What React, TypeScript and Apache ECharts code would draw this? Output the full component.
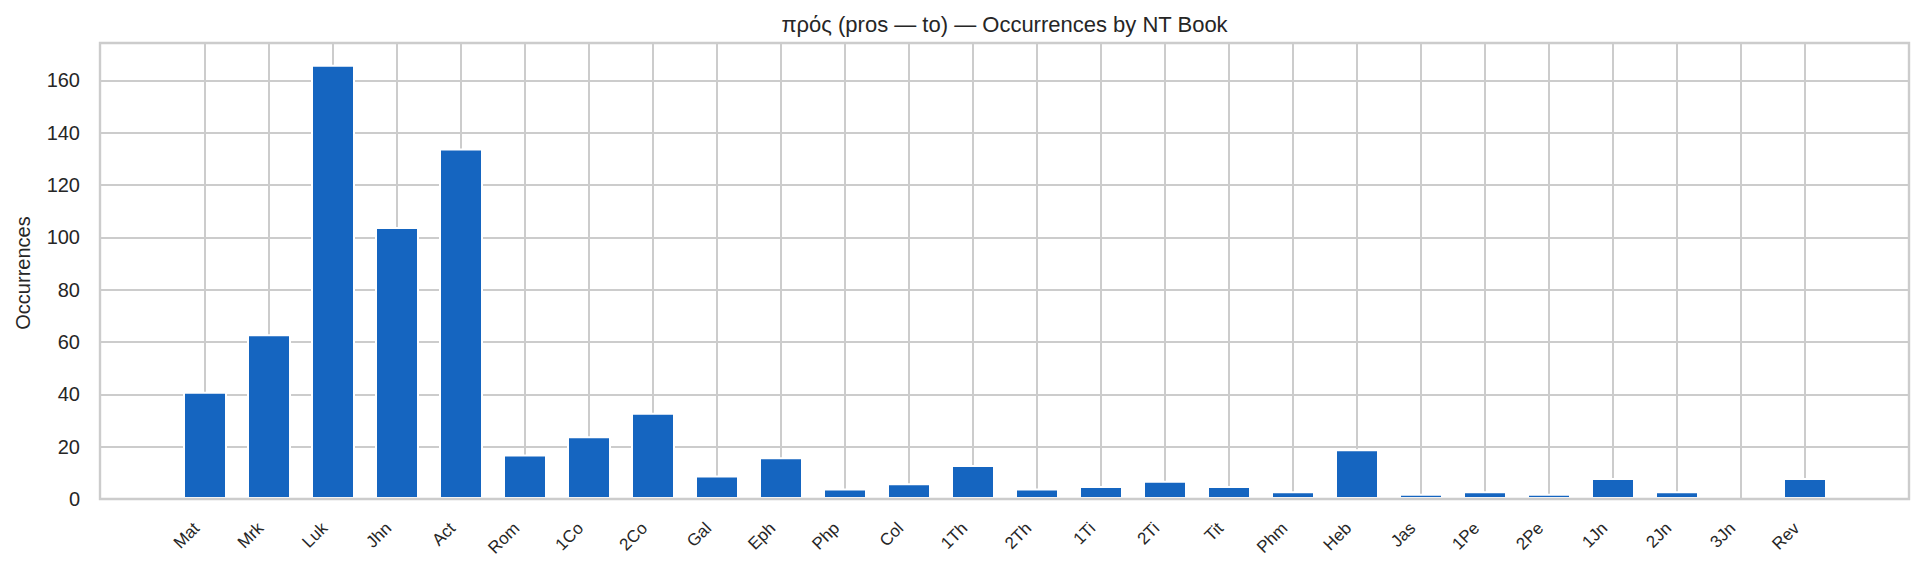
import React, { useEffect, useRef } from 'react';
import * as echarts from 'echarts';

const books = [
  'Mat', 'Mrk', 'Luk', 'Jhn', 'Act', 'Rom', '1Co', '2Co', 'Gal', 'Eph', 'Php', 'Col', '1Th',
  '2Th', '1Ti', '2Ti', 'Tit', 'Phm', 'Heb', 'Jas', '1Pe', '2Pe', '1Jn', '2Jn', '3Jn', 'Rev',
];
const occurrences = [
  41, 63, 166, 104, 134, 17, 24, 33, 9, 16, 4, 6, 13,
  4, 5, 7, 5, 3, 19, 2, 3, 2, 8, 3, 0, 8,
];
const yTicks = [0, 20, 40, 60, 80, 100, 120, 140, 160];
const yMax = 174.3;

const titleText = 'πρός (pros — to) — Occurrences by NT Book';
const yLabel = 'Occurrences';

const FONT = '"Liberation Sans", Arial, sans-serif';
const TEXT = '#262626';
const GRID = '#cccccc';
const BAR = '#1565C0';

export default function App() {
  const chartRef = useRef<HTMLDivElement>(null);

  useEffect(() => {
    document.body.style.margin = '0';
    if (!chartRef.current) return;
    const chart = echarts.init(chartRef.current, null, { renderer: 'svg' });

    const option: echarts.EChartsOption = {
      animation: false,
      backgroundColor: '#ffffff',
      textStyle: { fontFamily: FONT, color: TEXT },
      grid: [
        // frame + horizontal grid
        { left: 100, right: 14, top: 43, bottom: 76, containLabel: false },
        // bars + vertical grid
        { left: 205, right: 118, top: 43, bottom: 76, containLabel: false },
      ],
      xAxis: [
        { type: 'value', gridIndex: 0, min: 0, max: 1, show: false },
        {
          type: 'category',
          gridIndex: 1,
          data: books,
          boundaryGap: false,
          axisLine: { show: false },
          axisTick: { show: false },
          splitLine: { show: true, lineStyle: { color: GRID, width: 2 } },
          axisLabel: {
            rotate: 45,
            interval: 0,
            margin: 18,
            padding: [0, 12, 0, 0],
            fontSize: 17,
            color: TEXT,
            fontFamily: FONT,
          },
        },
      ],
      yAxis: [
        {
          type: 'value',
          gridIndex: 0,
          min: 0,
          max: yMax,
          interval: 20,
          axisLine: { show: false },
          axisTick: { show: false },
          splitLine: { show: true, lineStyle: { color: GRID, width: 2 } },
          axisLabel: {
            margin: 20,
            fontSize: 20,
            color: TEXT,
            fontFamily: FONT,
            showMaxLabel: false,
            formatter: (v: number) => (yTicks.includes(v) ? String(v) : ''),
          },
        },
        { type: 'value', gridIndex: 1, min: 0, max: yMax, show: false },
      ],
      series: [
        {
          type: 'bar',
          xAxisIndex: 1,
          yAxisIndex: 1,
          data: occurrences,
          barWidth: 44,
          clip: false,
          itemStyle: { color: BAR, borderColor: '#ffffff', borderWidth: 2 },
        },
      ],
      graphic: [
        {
          type: 'rect',
          z: 100,
          silent: true,
          shape: { x: 100, y: 43, width: 1809, height: 456 },
          style: { fill: 'none', stroke: GRID, lineWidth: 2.4 },
        },
        {
          type: 'text',
          x: 1004.5,
          y: 24,
          style: {
            text: titleText,
            fontSize: 22,
            fontFamily: FONT,
            fill: TEXT,
            textAlign: 'center',
            textVerticalAlign: 'middle',
          },
        },
        {
          type: 'text',
          x: 23,
          y: 273,
          rotation: Math.PI / 2,
          style: {
            text: yLabel,
            fontSize: 20,
            fontFamily: FONT,
            fill: TEXT,
            textAlign: 'center',
            textVerticalAlign: 'middle',
          },
        },
      ],
    };

    chart.setOption(option);
    return () => {
      chart.dispose();
    };
  }, []);

  return <div ref={chartRef} style={{ width: 1923, height: 575 }} />;
}
